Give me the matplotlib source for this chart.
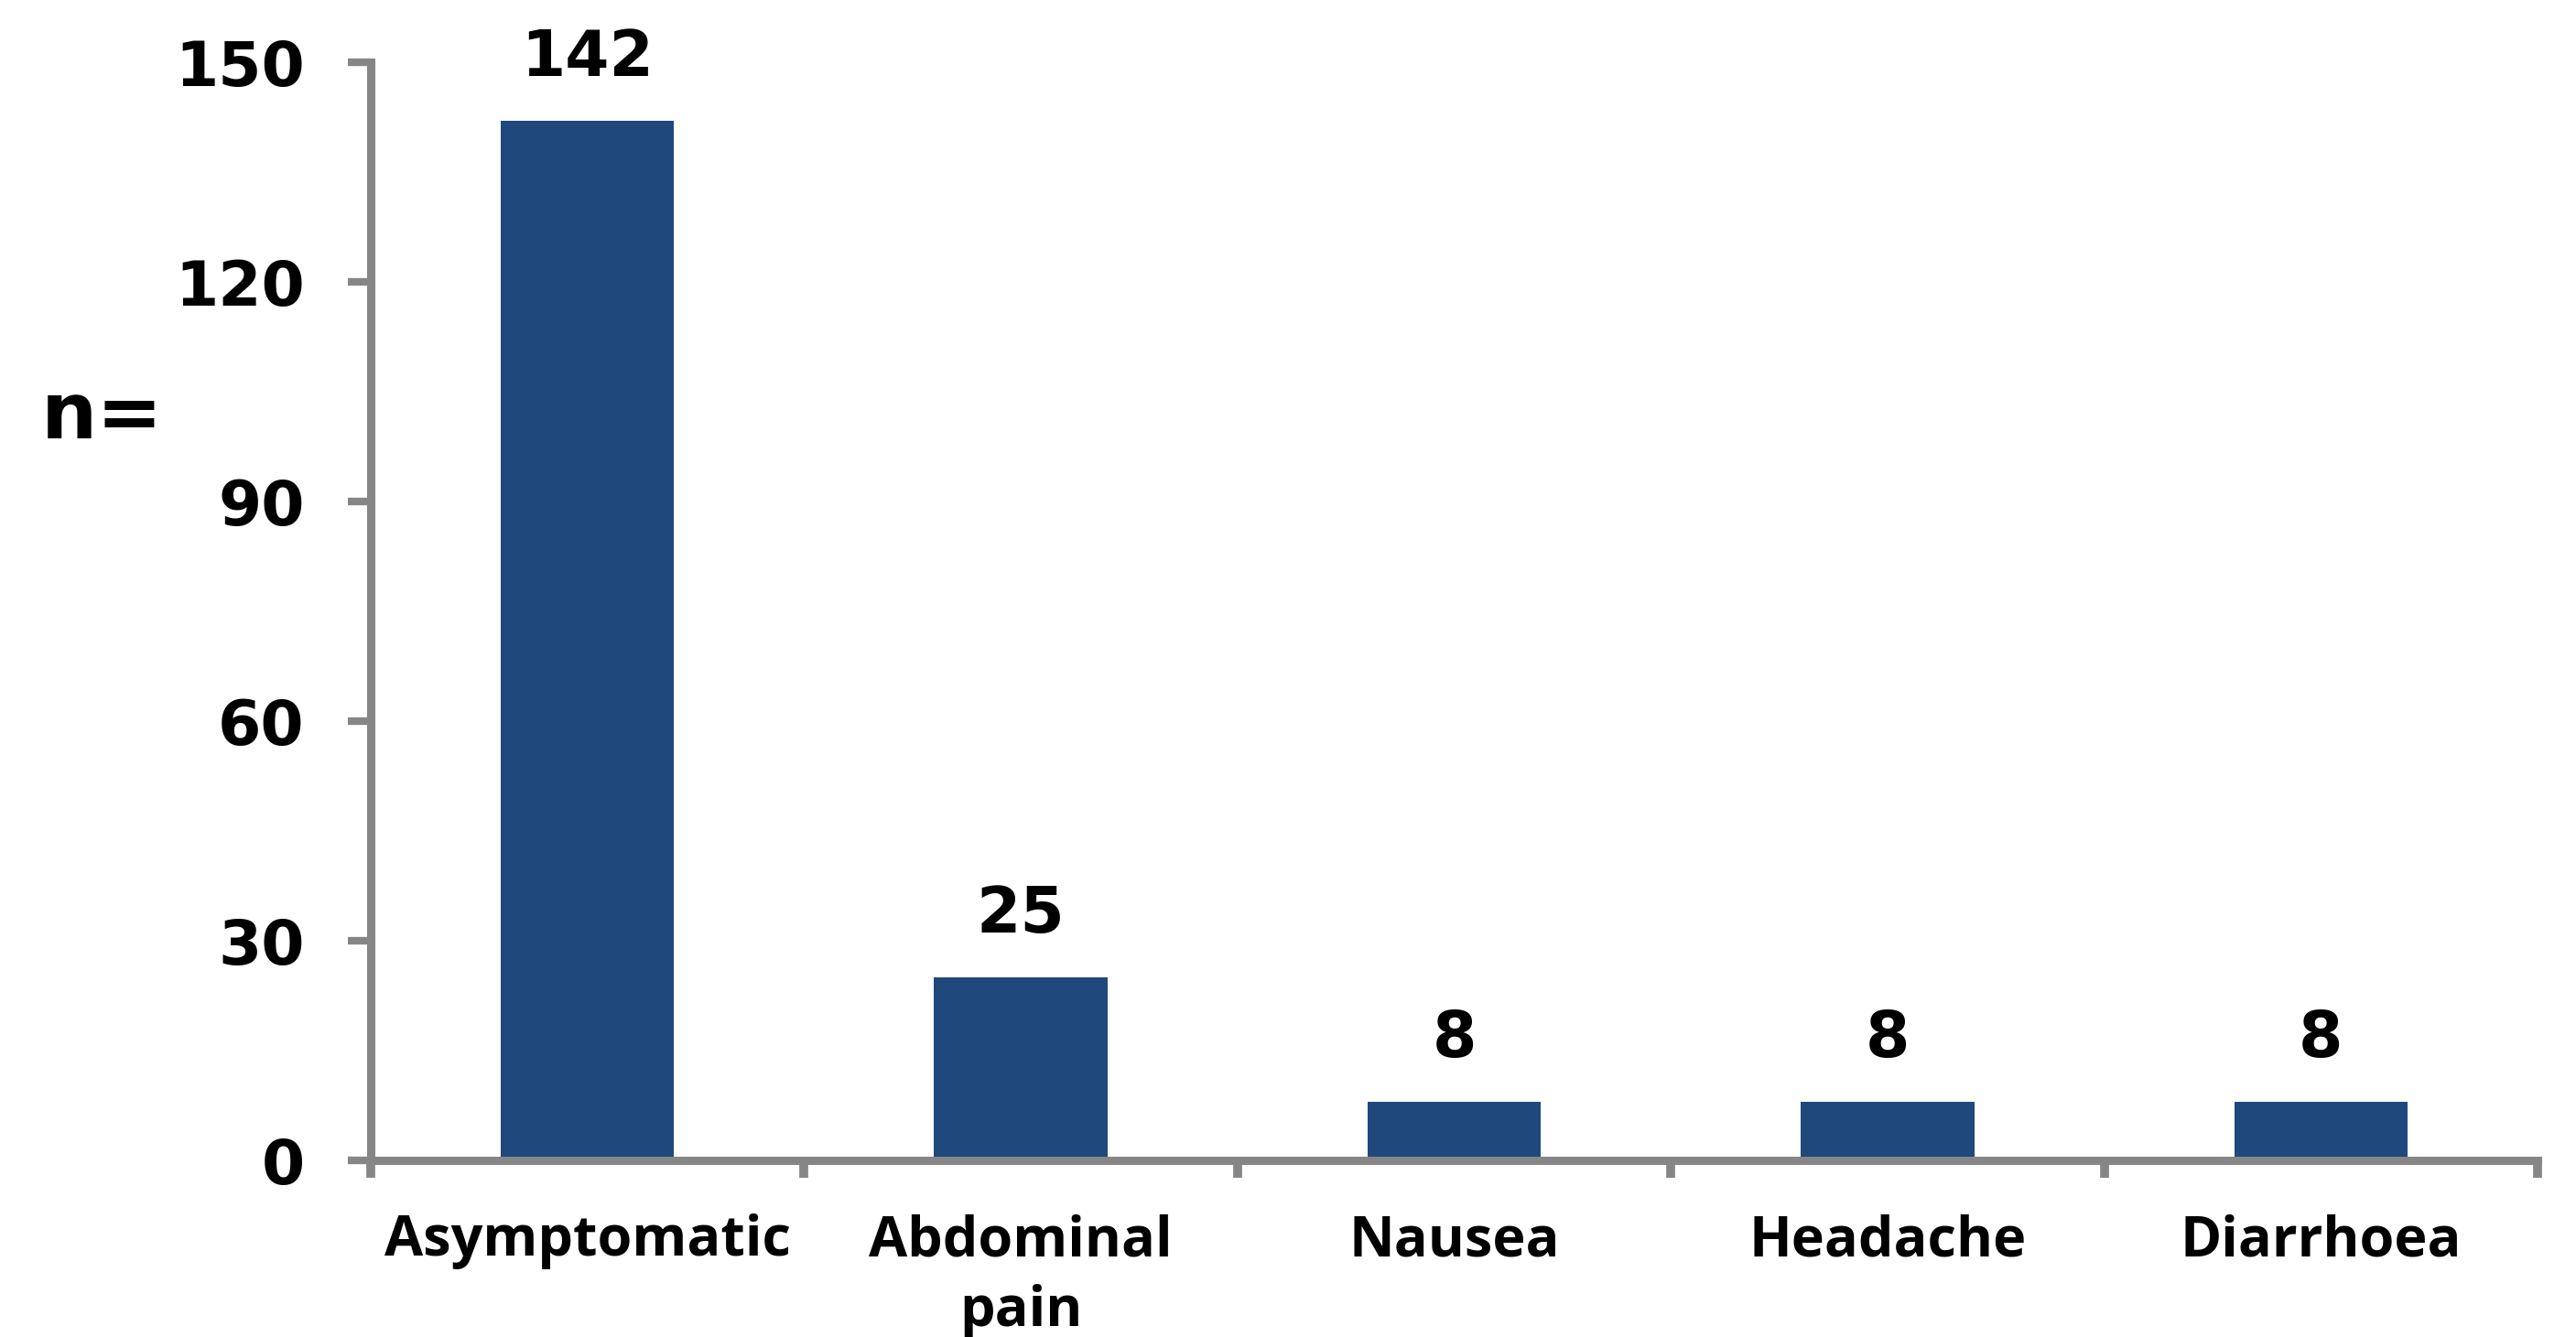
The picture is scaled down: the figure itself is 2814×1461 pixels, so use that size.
import matplotlib.pyplot as plt
import numpy as np

categories = ['Asymptomatic', 'Abdominal\npain', 'Nausea', 'Headache', 'Diarrhoea']
counts = [142, 25, 8, 8, 8]
y_ticks = [0, 30, 60, 90, 120, 150]

bar_color = '#1F497D'
axis_color = '#868686'

fig = plt.figure(figsize=(28.14, 14.61), dpi=100)
ax = fig.add_axes([0.1439, 0.1321, 0.8412, 0.8214])

x = np.arange(len(categories))
bars = ax.bar(x, counts, width=0.40, color=bar_color)

for xi, v in zip(x, counts):
    ax.annotate(str(v), (xi, v), xytext=(0, 25), textcoords='offset points',
                ha='center', va='bottom', fontsize=50, fontweight='bold',
                family='DejaVu Sans')

ax.set_xlim(-0.5, len(categories) - 0.5)
ax.set_ylim(0, 150)
ax.set_yticks(y_ticks)
ax.set_yticklabels([str(t) for t in y_ticks], fontsize=49, fontweight='bold',
                   family='DejaVu Sans')

# ticks between categories, labels at centres
ax.set_xticks(np.arange(-0.5, len(categories), 1.0))
ax.set_xticklabels([])
ax.set_xticks(x, minor=True)
ax.set_xticklabels(categories, minor=True, fontsize=44, fontweight='bold',
                   family='Open Sans', linespacing=1.35)
ax.tick_params(axis='x', which='minor', length=0, pad=42)
ax.tick_params(axis='x', which='major', length=14, width=7, color=axis_color,
               direction='out')
ax.tick_params(axis='y', length=18, width=6, color=axis_color,
               direction='out', pad=34)

for side in ['top', 'right']:
    ax.spines[side].set_visible(False)
for side in ['left', 'bottom']:
    ax.spines[side].set_color(axis_color)
    ax.spines[side].set_linewidth(6.5)

fig.text(0.016, 0.688, 'n=', fontsize=62, fontweight='bold',
         family='DejaVu Sans', ha='left', va='center')

fig.savefig('out.png', dpi=100)
